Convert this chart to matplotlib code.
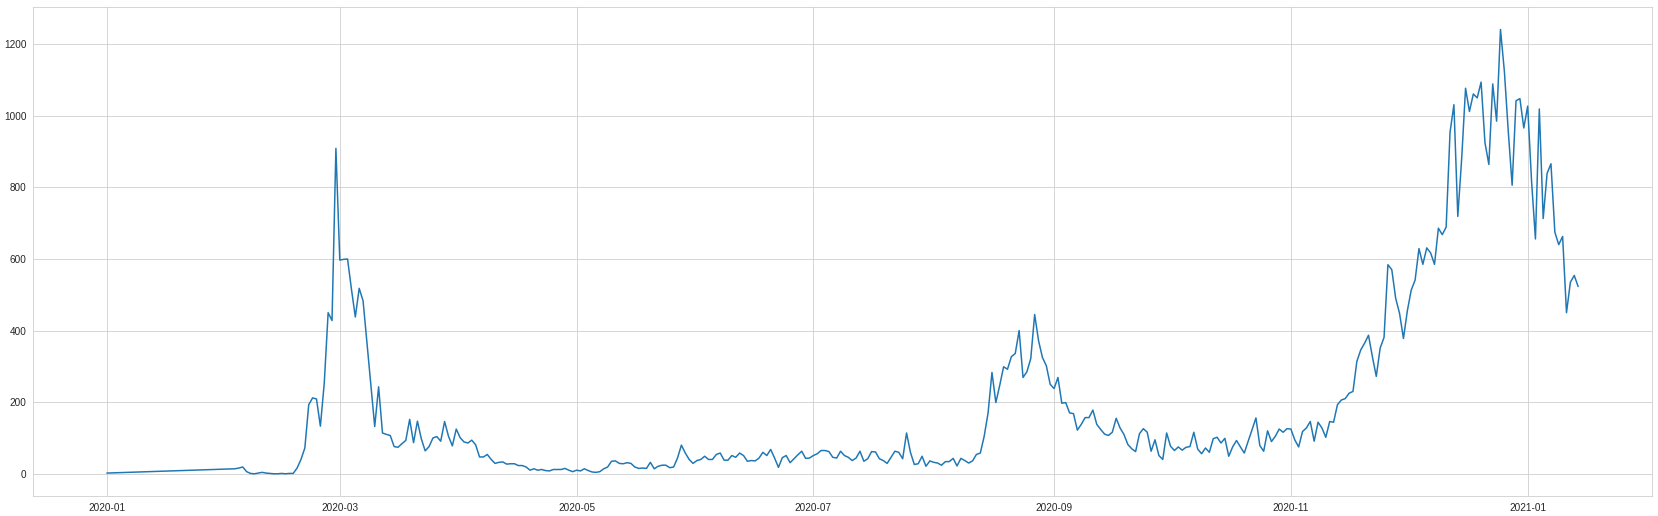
import matplotlib
matplotlib.use("Agg")
import matplotlib.pyplot as plt
import matplotlib.dates as mdates
import numpy as np
import pandas as pd
import seaborn as sns

# ---- data (daily values) ----
first_date = "2020-01-01"
first_value = [2]
series_start = "2020-02-03"
series_end = "2021-01-14"

feb_2020 = [14, 16, 19, 6, 1, 0, 2, 4, 2, 1, 0, 0, 1, 0, 1, 1, 16, 40, 72, 193,
            212, 209, 133, 253, 450, 428, 909]
mar_2020 = [597, 599, 600, 516, 438, 518, 483, 367, 248, 132, 243, 114, 110, 107,
            76, 74, 84, 93, 152, 87, 147, 98, 64, 76, 100, 104, 91, 146, 105, 78, 125]
apr_2020 = [101, 89, 86, 94, 81, 47, 47, 54, 40, 29, 32, 33, 27, 28, 28, 23, 23,
            19, 10, 14, 10, 12, 9, 8, 12, 12, 12, 15, 10, 6]
may_2020 = [10, 8, 14, 9, 5, 4, 6, 14, 19, 35, 36, 29, 28, 31, 29, 19, 15, 16, 15,
            32, 14, 21, 24, 24, 17, 19, 44, 80, 58, 40, 29]
jun_2020 = [37, 40, 49, 40, 40, 54, 58, 38, 38, 51, 46, 58, 51, 35, 37, 36, 44, 60,
            51, 68, 44, 18, 45, 51, 31, 42, 53, 63, 43, 44]
jul_2020 = [51, 56, 65, 65, 62, 46, 44, 63, 51, 46, 37, 44, 63, 35, 42, 62, 61, 42,
            37, 29, 46, 63, 60, 42, 114, 60, 26, 28, 49, 21, 36]
aug_2020 = [32, 30, 24, 34, 34, 43, 22, 43, 37, 30, 36, 54, 58, 105, 170, 283, 199,
            247, 299, 292, 327, 336, 400, 269, 285, 322, 445, 372, 325, 302, 250]
sep_2020 = [238, 269, 197, 199, 170, 168, 122, 138, 157, 157, 178, 138, 124, 111,
            107, 116, 155, 128, 110, 82, 70, 62, 112, 126, 116, 63, 95, 51, 40, 114]
oct_2020 = [77, 65, 75, 66, 74, 76, 116, 69, 56, 72, 60, 98, 102, 86, 99, 49, 75,
            93, 75, 58, 91, 123, 156, 79, 63, 120, 90, 105, 125, 116, 126]
nov_2020 = [125, 95, 75, 118, 128, 146, 91, 144, 128, 102, 146, 144, 193, 206, 210,
            225, 230, 314, 346, 365, 387, 327, 272, 351, 381, 584, 570, 490, 448, 378]
dec_2020 = [455, 513, 541, 629, 585, 631, 617, 585, 686, 668, 689, 954, 1031, 719,
            880, 1077, 1012, 1061, 1050, 1094, 925, 864, 1089, 985, 1241, 1124, 957,
            806, 1042, 1048, 966]
jan_2021 = [1027, 818, 656, 1019, 713, 839, 866, 675, 640, 663, 450, 535, 554, 523]

y_ticks = [0, 200, 400, 600, 800, 1000, 1200]

# ---- assemble ----
dates = pd.DatetimeIndex([pd.Timestamp(first_date)]).append(
    pd.date_range(series_start, series_end, freq="D"))
values = (first_value + feb_2020 + mar_2020 + apr_2020 + may_2020 + jun_2020 +
          jul_2020 + aug_2020 + sep_2020 + oct_2020 + nov_2020 + dec_2020 + jan_2021)
assert len(dates) == len(values)

sns.set_style("whitegrid")
plt.rcParams["font.family"] = ["Liberation Sans", "DejaVu Sans"]

W, H, DPI = 1658, 516, 72
fig = plt.figure(figsize=(W / DPI, H / DPI), dpi=DPI)
ax = fig.add_axes([33.3 / W, 1 - 496 / H, (1651.7 - 33.3) / W, (496 - 7.3) / H])
ax.plot(dates, values, color="#1f77b4", linewidth=1.5)

ax.xaxis.set_major_locator(mdates.MonthLocator(bymonth=[1, 3, 5, 7, 9, 11]))
ax.xaxis.set_major_formatter(mdates.DateFormatter("%Y-%m"))
ax.set_yticks(y_ticks)
ax.tick_params(labelsize=10)

fig.savefig("out.png", dpi=DPI)
